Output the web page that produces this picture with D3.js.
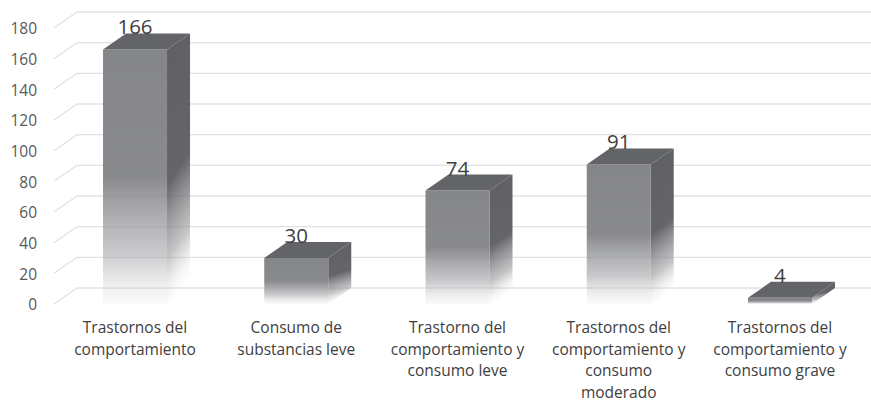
<!DOCTYPE html>
<html>
<head>
<meta charset="utf-8">
<script src="https://cdn.jsdelivr.net/npm/d3@7"></script>
<style>
  html, body { margin: 0; padding: 0; background: #fff; }
  svg { display: block; font-family: "Open Sans", Lato, sans-serif; }
</style>
</head>
<body>
<svg id="chart" width="871" height="403"></svg>
<script>
// ---- data ----
const categories = [
  ["Trastornos del", "comportamiento"],
  ["Consumo de", "substancias leve"],
  ["Trastorno del", "comportamiento y", "consumo leve"],
  ["Trastornos del", "comportamiento y", "consumo", "moderado"],
  ["Trastornos del", "comportamiento y", "consumo grave"]
];
const values = [166, 30, 74, 91, 4];
const ticks = [0, 20, 40, 60, 80, 100, 120, 140, 160, 180];

// ---- layout ----
const W = 871, H = 403;
const depthX = 23, depthY = -16;
const svg = d3.select("#chart");
const keys = categories.map((c, i) => i);

const x = d3.scaleBand().domain(keys).range([54.4, 860.6])
  .paddingInner(0.603).paddingOuter(0.3015);
const y = d3.scaleLinear().domain([0, 180]).range([304, 28]);

const defs = svg.append("defs");
const gFront = defs.append("linearGradient").attr("id", "gFront")
  .attr("x1", 0).attr("y1", 0).attr("x2", 0).attr("y2", 1);
gFront.append("stop").attr("offset", 0).attr("stop-color", "#818286").attr("stop-opacity", 0.97);
gFront.append("stop").attr("offset", 0.5).attr("stop-color", "#838487").attr("stop-opacity", 0.95);
gFront.append("stop").attr("offset", 0.8).attr("stop-color", "#a4a5a8").attr("stop-opacity", 0.6);
gFront.append("stop").attr("offset", 1).attr("stop-color", "#e6e6e8").attr("stop-opacity", 0.2);

const gSide = defs.append("linearGradient").attr("id", "gSide")
  .attr("x1", 0).attr("y1", 0).attr("x2", 0.12).attr("y2", 1);
gSide.append("stop").attr("offset", 0).attr("stop-color", "#5a5b5e").attr("stop-opacity", 0.97);
gSide.append("stop").attr("offset", 0.55).attr("stop-color", "#5c5d60").attr("stop-opacity", 0.95);
gSide.append("stop").attr("offset", 0.82).attr("stop-color", "#9a9b9e").attr("stop-opacity", 0.6);
gSide.append("stop").attr("offset", 1).attr("stop-color", "#f0f0f0").attr("stop-opacity", 0.1);

// ---- gridlines (back wall + left floor diagonal) ----
const grid = svg.append("g");
ticks.forEach(t => {
  const yf = y(t), yb = y(t) + depthY;
  grid.append("line")
    .attr("x1", 54).attr("y1", yf).attr("x2", 54 + depthX).attr("y2", yb)
    .attr("stroke", "#e2e2e2").attr("stroke-width", 1.3);
  grid.append("line")
    .attr("x1", 54 + depthX).attr("y1", yb).attr("x2", W).attr("y2", yb)
    .attr("stroke", "#e2e2e2").attr("stroke-width", 1.3);
});

// ---- y tick labels ----
svg.append("g").selectAll("text").data(ticks).join("text")
  .attr("x", 37).attr("y", d => y(d) + 1)
  .attr("dy", "0.35em")
  .attr("text-anchor", "end")
  .attr("font-size", 15.5)
  .attr("fill", "#595959")
  .text(d => d);

// ---- bars ----
const bars = svg.append("g").selectAll("g").data(values).join("g");
const bw = x.bandwidth();
bars.each(function(v, i) {
  const g = d3.select(this);
  const x0 = x(i), x1 = x0 + bw;
  const y0 = y(0), yt = y(v);
  // side face
  g.append("path")
    .attr("d", `M${x1},${yt} L${x1 + depthX},${yt + depthY} L${x1 + depthX},${y0 + depthY} L${x1},${y0} Z`)
    .attr("fill", "url(#gSide)");
  // front face
  g.append("rect")
    .attr("x", x0).attr("y", yt).attr("width", bw).attr("height", y0 - yt)
    .attr("fill", "url(#gFront)");
  // top face
  g.append("path")
    .attr("d", `M${x0},${yt} L${x0 + depthX},${yt + depthY} L${x1 + depthX},${yt + depthY} L${x1},${yt} Z`)
    .attr("fill", "#636467");
});

// ---- value labels ----
svg.append("g").selectAll("text").data(values).join("text")
  .attr("x", (d, i) => x(i) + bw / 2)
  .attr("y", d => y(d) + depthY + 1)
  .attr("text-anchor", "middle")
  .attr("font-size", 20.5)
  .attr("fill", "#404040")
  .text(d => d);

// ---- category labels ----
const cat = svg.append("g").selectAll("text").data(categories).join("text")
  .attr("text-anchor", "middle")
  .attr("font-size", 15.5)
  .attr("fill", "#404040");
cat.each(function(lines, i) {
  const t = d3.select(this);
  lines.forEach((ln, j) => {
    t.append("tspan")
      .attr("x", x(i) + bw / 2)
      .attr("y", 333 + j * 21.7)
      .text(ln);
  });
});
</script>
</body>
</html>
